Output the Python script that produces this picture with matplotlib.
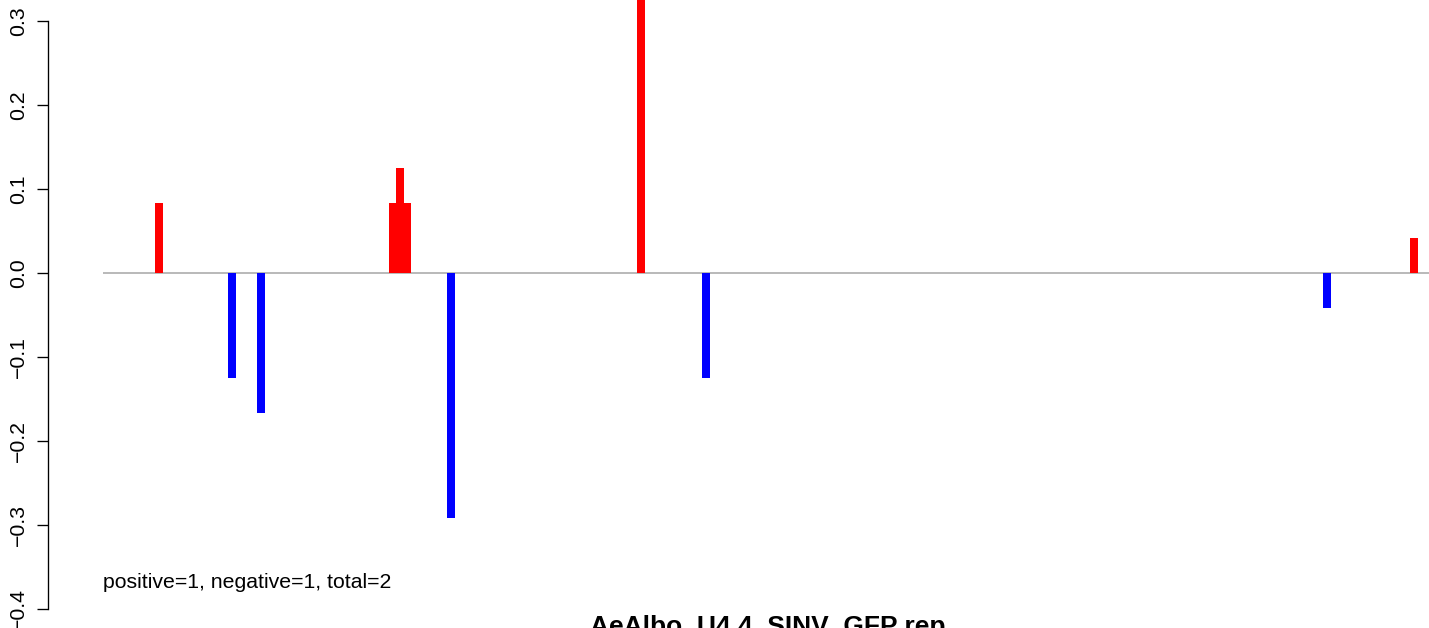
# -*- coding: utf-8 -*-

import numpy as np
import matplotlib
matplotlib.use("Agg")
import matplotlib.pyplot as plt

plt.rcParams['font.family'] = ['Liberation Sans', 'DejaVu Sans']

# positions along the sequence and values (fraction of reads)
positions = [9, 19, 23, 41, 42, 43, 49, 75, 84, 169, 181]
values = [0.0833, -0.125, -0.1667, 0.0833, 0.125, 0.0833, -0.2917, 0.375, -0.125, -0.0417, 0.0417]
yticks = [-0.4, -0.3, -0.2, -0.1, 0.0, 0.1, 0.2, 0.3]
summary = "positive=1, negative=1, total=2"
title = "AeAlbo_U4.4_SINV_GFP rep"

W, H = 1429, 628
fig = plt.figure(figsize=(W/100., H/100.), dpi=100)
ax = fig.add_axes([48./W, 0, 1 - 48./W, 1])

px = 7.297  # pixels per position
ax.set_xlim(9 - 111/px, 9 + 1270/px)
ax.set_ylim(-355/840., 273/840.)

ax.hlines(0, 1.33, 200, color="#a6a6a6", lw=1.1, zorder=1)

cols = ["red" if v > 0 else "blue" for v in values]
ax.vlines(positions, 0, values, colors=cols, lw=5.76, capstyle="butt", zorder=2)

for s in ["top", "right", "bottom"]:
    ax.spines[s].set_visible(False)
ax.spines["left"].set_bounds(-0.4, 0.3)
ax.spines["left"].set_linewidth(0.96)
ax.set_xticks([])
ax.set_yticks(yticks)
labs = [("%.1f" % abs(t)) if t >= 0 else u"\u2212%.1f" % abs(t) for t in yticks]
ax.set_yticklabels(labs, rotation=90, va="center")
ax.tick_params(axis="y", length=8.2, width=0.96, labelsize=15.3, pad=6)
ax.set_facecolor("none")

ax.text(1.33, -0.375, summary, fontsize=15.3, ha="left", va="baseline")
fig.text(590./W, 1 - 634./H, title, fontsize=19, fontweight="bold", ha="left", va="baseline")

plt.savefig("out.png", dpi=100)
